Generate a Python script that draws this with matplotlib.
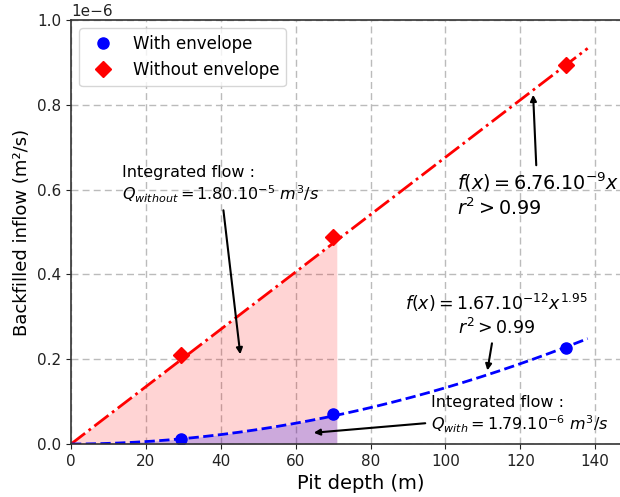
import matplotlib.pyplot as plt
import numpy as np

# measured points (pit depth in m, inflow in m2/s)
depth = [29.5, 70.0, 132.3]
q_with = [0.012e-6, 0.071e-6, 0.227e-6]
q_without = [0.21e-6, 0.488e-6, 0.894e-6]

# fit parameters
slope_without = 6.76e-9
coef_with, expo_with = 1.67e-11, 1.95
x_fit_max = 138.0
x_int_max = 71.0

x = np.linspace(0, x_fit_max, 300)
f_without = slope_without * x
f_with = coef_with * x**expo_with

xi = np.linspace(0, x_int_max, 200)

fig = plt.figure(figsize=(6.2, 4.97), dpi=100)
ax = fig.add_axes([0.1145, 0.1066, 0.936, 0.8534])

ax.fill_between(xi, 0, slope_without * xi, color='red', alpha=0.17, lw=0)
ax.fill_between(xi, 0, coef_with * xi**expo_with, color='blue', alpha=0.2, lw=0)

ax.plot(x, f_without, color='red', ls='-.', lw=2)
ax.plot(x, f_with, color='blue', ls='--', lw=2)
ax.plot(depth, q_with, 'o', color='blue', ms=8, label='With envelope')
ax.plot(depth, q_without, 'D', color='red', ms=8, label='Without envelope')

arr = dict(arrowstyle='-|>', color='black', lw=1.5, mutation_scale=9)
ax.annotate('Integrated flow :\n$Q_{without} = 1.80.10^{-5}\\ m^3/s$',
            xy=(45.3, 0.205e-6), xytext=(13.6, 0.611e-6), ha='left', va='center',
            fontsize=11.5, arrowprops=arr)
ax.annotate('$f(x) = 6.76.10^{-9}x$\n$r^2 > 0.99$',
            xy=(123.4, 0.83e-6), xytext=(103.0, 0.587e-6), ha='left', va='center',
            fontsize=13.8, arrowprops=arr)
ax.annotate('$f(x) = 1.67.10^{-12}x^{1.95}$\n$r^2 > 0.99$',
            xy=(111.1, 0.167e-6), xytext=(113.7, 0.304e-6), ha='center', va='center',
            fontsize=12.5, arrowprops=arr)
ax.annotate('Integrated flow :\n$Q_{with} = 1.79.10^{-6}\\ m^3/s$',
            xy=(64.1, 0.026e-6), xytext=(96.1, 0.068e-6), ha='left', va='center',
            fontsize=11.5, arrowprops=arr)

ax.set_xlim(0, 155)
ax.set_ylim(0, 1.0e-6)
ax.set_xticks(np.arange(0, 141, 20))
ax.grid(True, ls=(0, (5, 3)), color='#bbbbbb', lw=1)
ax.set_axisbelow(True)
for s in ax.spines.values():
    s.set_color('#333333')
    s.set_linewidth(1.2)
ax.tick_params(labelsize=11, colors='#222222')
ax.yaxis.get_offset_text().set_fontsize(11)
ax.set_xlabel('Pit depth (m)', fontsize=14)
ax.set_ylabel('Backfilled inflow (m²/s)', fontsize=13)
ax.legend(loc='upper left', fontsize=12)

plt.savefig('out.png', dpi=100)
